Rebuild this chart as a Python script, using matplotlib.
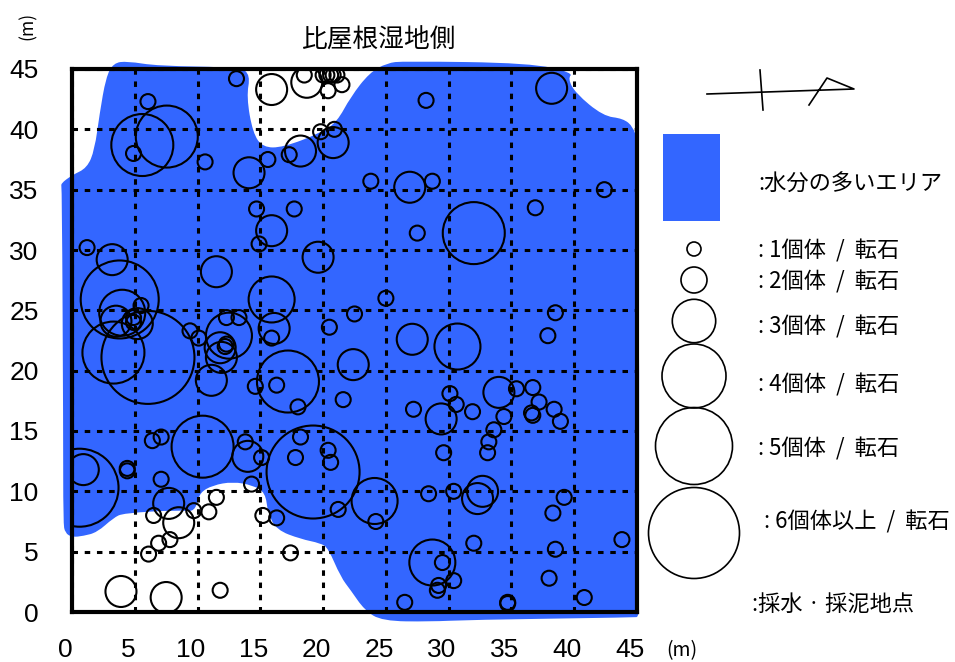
import matplotlib
matplotlib.use('Agg')
import matplotlib.pyplot as plt
from matplotlib.patches import Circle, PathPatch, Rectangle
from matplotlib.path import Path
from matplotlib.transforms import ScaledTranslation
import numpy as np

plt.rcParams['font.family'] = ['Noto Sans CJK JP', 'DejaVu Sans']

# boulders by class (m)
x1 = [13.1, 18.5, 20.0, 20.3, 20.6, 20.8, 21.1, 20.4, 21.5, 6.05, 4.9, 10.6, 15.6, 17.3, 19.8, 20.9,
      14.7, 17.7, 14.9, 1.2, 5.5, 4.9, 4.9, 12.3, 13.3, 9.4, 10.1, 12.2, 12.3, 20.5, 15.9,
      28.2, 23.8, 28.7, 42.4, 36.9, 27.5, 25.0, 22.5, 38.5, 37.9, 21.6, 27.2, 30.1, 30.6, 31.9,
      35.4, 36.7, 37.2, 38.4, 38.9, 36.6, 36.7, 34.4, 33.6, 33.2, 33.1, 29.6, 28.4, 30.4, 24.2,
      21.2, 39.2, 38.3, 32.0, 38.5, 43.8, 29.5, 30.4, 29.2, 29.1, 26.5, 34.7, 34.7, 38.0, 40.8,
      14.6, 16.3, 18.0, 6.4, 7.1, 13.8, 15.1, 18.2, 17.8, 20.4, 20.6, 4.4, 4.4, 7.1, 9.7,
      10.9, 11.5, 14.3, 6.5, 7.8, 6.9, 6.1, 15.2, 16.3, 17.4, 11.8]
y1 = [44.2, 44.5, 44.5, 44.5, 44.5, 44.5, 44.5, 43.2, 43.7, 42.3, 38.0, 37.3, 37.5, 37.9, 39.8, 40.0,
      33.4, 33.4, 30.5, 30.2, 25.4, 24.4, 24.0, 24.4, 24.4, 23.3, 22.7, 22.0, 22.2, 23.6, 22.7,
      42.4, 35.7, 35.7, 35.0, 33.5, 31.4, 26.0, 24.7, 24.8, 22.9, 17.6, 16.8, 18.1, 17.2, 16.6,
      18.5, 18.6, 17.4, 16.8, 15.8, 16.5, 16.3, 16.2, 15.1, 14.1, 13.2, 13.2, 9.8, 10.0, 7.5,
      8.5, 9.5, 8.2, 5.7, 5.2, 6.0, 4.1, 2.6, 2.2, 1.8, 0.8, 0.8, 0.7, 2.8, 1.2,
      18.7, 18.8, 17.0, 14.2, 14.5, 14.1, 12.8, 14.5, 12.8, 13.4, 12.4, 11.9, 11.7, 11.0, 8.4,
      8.3, 9.5, 10.6, 8.0, 6.0, 5.7, 4.8, 8.0, 7.8, 4.9, 1.8]
x2 = [15.9, 18.7, 14.1, 18.2, 20.8, 15.9, 19.6, 3.2, 11.5, 3.5, 5.2, 11.8, 11.9, 11.1, 16.1,
      38.2, 26.9, 27.1, 22.4, 29.4, 34.0, 32.7, 32.3, 14.0, 0.9, 7.7, 8.5, 3.9, 7.5]
y2 = [43.3, 43.9, 36.4, 38.2, 38.9, 31.6, 29.4, 29.2, 28.2, 24.1, 23.9, 21.9, 21.1, 19.2, 23.5,
      43.4, 35.2, 22.6, 20.5, 16.0, 18.2, 10.0, 9.4, 12.9, 11.8, 9.0, 7.4, 1.7, 1.2]
x3 = [4.0, 15.9, 12.5, 30.7, 24.1, 28.7]
y3 = [24.8, 25.9, 22.9, 22.0, 9.2, 4.1]
x4 = [7.55, 5.6, 32.0, 3.3, 17.2, 10.4]
y4 = [39.4, 38.7, 31.4, 21.5, 19.1, 13.7]
x5 = [3.8, 0.6]
y5 = [25.9, 10.3]
x6 = [6.05, 19.2]
y6 = [21.1, 11.6]
class_radius = [7.5, 15.5, 23, 31, 39, 46.5]  # px

# wet area outline (m)
wet_x = [-0.9, 0, 1.2, 1.8, 2.2, 2.7, 3.3, 4.4, 6.8, 13.4, 14.2, 13.9, 14.4, 15.2, 16.8, 19.8, 21.1,
         22.2, 23.7, 25.1, 26.4, 36.5, 39.9, 39.5, 40.1, 42.3, 43.9, 44.7, 45.0, 45.1, 45.2, 45.1, 45.1, 44.8,
         31.7, 28.5, 24.7, 23.3, 22.2, 21.4, 20.4, 19.8, 18.2, 16.3, 15.6, 15.4, 14.4, 12.8, 11.2,
         10.2, 10.0, 9.6, 8.6, 4.1, 3.3, 2.0, 0.9, 0, -0.55, -0.7, -0.7, -0.8]
wet_y = [35.5, 36.2, 36.8, 38.3, 41.3, 44.3, 45.5, 45.65, 45.25, 45.15, 44.5, 42.7, 39.7, 38.5, 38.5, 39.7, 40.6,
         42.7, 44.7, 45.5, 45.65, 45.5, 44.7, 44.2, 43.0, 41.1, 40.9, 40.2, 39.1, 27.3, 17.6, 0.2, -0.4, -0.45,
         -0.65, -0.8, -0.75, 0.15, 1.8, 2.9, 5.3, 5.7, 6.05, 6.8, 8.2, 9.9, 10.5, 10.8, 10.5,
         9.9, 9.0, 8.3, 8.45, 8.2, 7.8, 6.6, 6.3, 6.2, 6.55, 7.4, 15.1, 35.2]

ticks = [0, 5, 10, 15, 20, 25, 30, 35, 40, 45]
blue = '#3366FF'

legend_text = [':水分の多いエリア', ': 1個体  /  転石', ': 2個体  /  転石', ': 3個体  /  転石',
               ': 4個体  /  転石', ': 5個体  /  転石', ': 6個体以上  /  転石', ':採水 · 採泥地点']
legend_text_x = [758, 758, 758, 758, 758, 758, 764, 752]
legend_text_y = [184, 251, 282, 327, 385, 449, 522, 604]
legend_r = [7, 13, 21.7, 32, 38.5, 45.5]
legend_cy = [249, 280, 321, 376, 446, 533]


def smooth_path(xs, ys):
    pts = np.column_stack([xs, ys])
    nxt = np.roll(pts, -1, axis=0)
    mids = (pts + nxt) / 2
    verts = [mids[-1]]
    codes = [Path.MOVETO]
    for p, m in zip(pts, mids):
        verts += [p, m]
        codes += [Path.CURVE3, Path.CURVE3]
    return Path(verts, codes)


W, H = 955, 662
fig = plt.figure(figsize=(W / 100, H / 100), dpi=100)
ax = fig.add_axes([72 / W, (H - 612) / H, 565 / W, 543 / H])
ax.set_xlim(0, 45)
ax.set_ylim(0, 45)

ax.add_patch(PathPatch(smooth_path(wet_x, wet_y), facecolor=blue, edgecolor='none', clip_on=False, zorder=1))
ax.grid(True, color='black', linewidth=2.2, linestyle=(0, (1.8, 2.2)), zorder=1.5)
ax.set_axisbelow(False)

for xs, ys, r in zip([x1, x2, x3, x4, x5, x6], [y1, y2, y3, y4, y5, y6], class_radius):
    size = (2 * r * 0.72) ** 2
    ax.scatter(xs, ys, s=size, facecolors='none', edgecolors='black', linewidths=1.5, zorder=3)

for s in ax.spines.values():
    s.set_linewidth(3)
    s.set_zorder(5)

ax.set_xticks(ticks)
ax.set_yticks(ticks)
ax.set_xticklabels(ticks, family='Liberation Sans', fontsize=19)
ax.set_yticklabels(ticks, family='Liberation Sans', fontsize=19)
ax.tick_params(axis='x', length=0, pad=19)
ax.tick_params(axis='y', length=0, pad=24)
shift = ScaledTranslation(-7 / 100, 0, fig.dpi_scale_trans)
for lab in ax.get_xticklabels():
    lab.set_transform(lab.get_transform() + shift)

# everything outside the map, in pixel coordinates
ov = fig.add_axes([0, 0, 1, 1])
ov.set_xlim(0, W)
ov.set_ylim(H, 0)
ov.axis('off')

ov.text(378, 41, '比屋根湿地側', fontsize=18.5, ha='center', va='center')
ov.text(28, 26, '(m)', fontsize=12.5, rotation=90, ha='center', va='center')
ov.text(682, 651, '(m)', fontsize=14, ha='center', va='center')

# north arrow
ov.plot([707, 854, 827, 809], [94, 89, 78, 105], color='black', lw=1.2)
ov.plot([760, 763], [70, 110], color='black', lw=1.2)

ov.add_patch(Rectangle((663, 134), 57, 87, facecolor=blue, edgecolor='none'))
for r, cy in zip(legend_r, legend_cy):
    ov.add_patch(Circle((694, cy), r, fill=False, edgecolor='black', lw=1.2))
for t, tx, ty in zip(legend_text, legend_text_x, legend_text_y):
    ov.text(tx, ty, t, fontsize=16, ha='left', va='center')

fig.savefig('out.png', dpi=100)
